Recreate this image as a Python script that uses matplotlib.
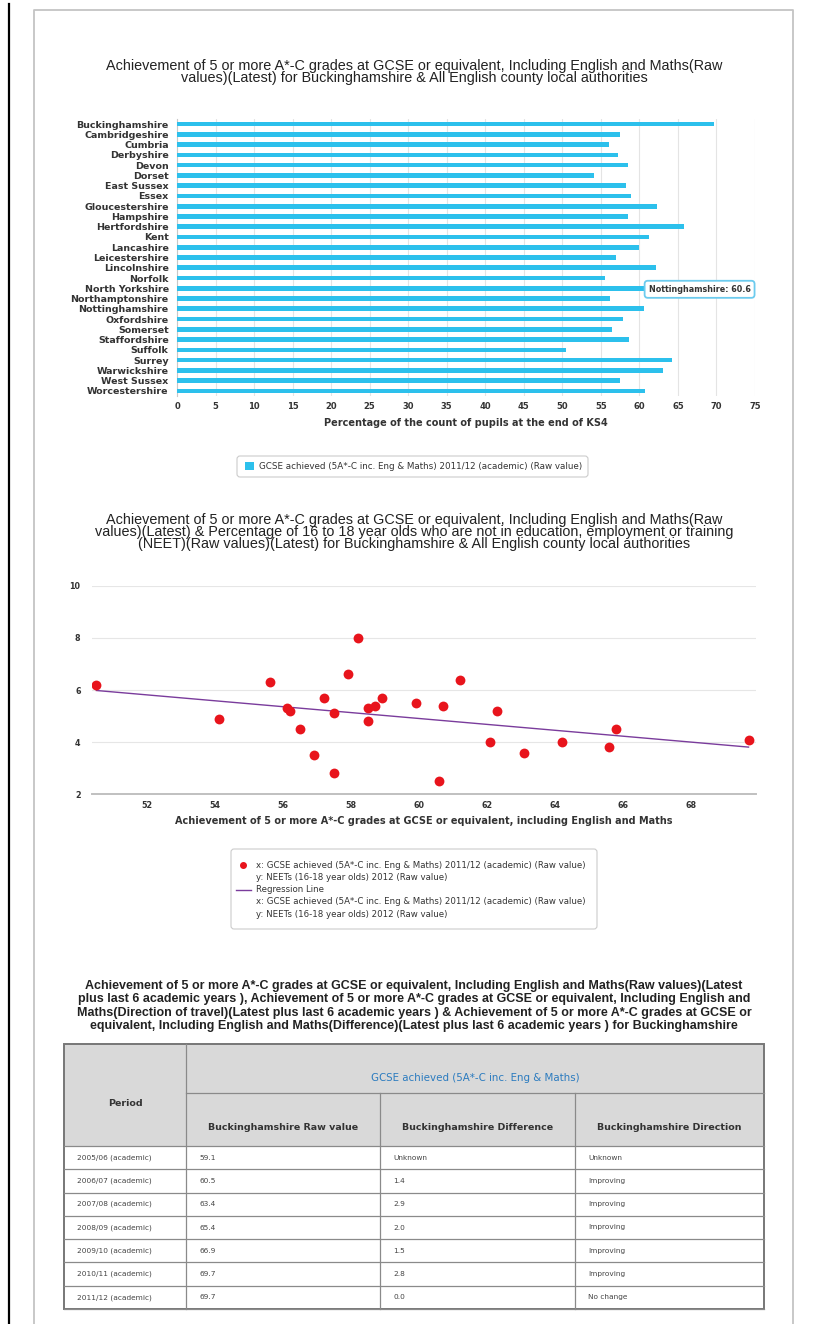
import matplotlib.pyplot as plt
import numpy as np
from matplotlib.patches import FancyBboxPatch, Rectangle
from matplotlib.lines import Line2D

counties = ["Buckinghamshire", "Cambridgeshire", "Cumbria", "Derbyshire", "Devon",
            "Dorset", "East Sussex", "Essex", "Gloucestershire", "Hampshire",
            "Hertfordshire", "Kent", "Lancashire", "Leicestershire", "Lincolnshire",
            "Norfolk", "North Yorkshire", "Northamptonshire", "Nottinghamshire",
            "Oxfordshire", "Somerset", "Staffordshire", "Suffolk", "Surrey",
            "Warwickshire", "West Sussex", "Worcestershire"]
gcse = [69.7, 57.5, 56.1, 57.2, 58.5, 54.1, 58.2, 58.9, 62.3, 58.5, 65.8, 61.2,
        59.9, 56.9, 62.1, 55.6, 65.6, 56.2, 60.6, 57.9, 56.5, 58.7, 50.5, 64.2,
        63.1, 57.5, 60.7]
neet = [4.1, 5.1, 5.3, 5.7, 5.3, 4.9, 8.0, 5.7, 5.2, 4.8, 4.5, 6.4, 5.5, 3.5, 4.0,
        6.3, 3.8, 5.2, 2.5, 6.6, 4.5, 5.4, 6.2, 4.0, 3.6, 2.8, 5.4]

bar_ticks = list(range(0, 80, 5))
sc_xticks = list(range(52, 70, 2))
sc_yticks = [2, 4, 6, 8, 10]

periods = ["2005/06 (academic)", "2006/07 (academic)", "2007/08 (academic)",
           "2008/09 (academic)", "2009/10 (academic)", "2010/11 (academic)",
           "2011/12 (academic)"]
raw_vals = ["59.1", "60.5", "63.4", "65.4", "66.9", "69.7", "69.7"]
diffs = ["Unknown", "1.4", "2.9", "2.0", "1.5", "2.8", "0.0"]
directions = ["Unknown", "Improving", "Improving", "Improving", "Improving",
              "Improving", "No change"]

series_name = "GCSE achieved (5A*-C inc. Eng & Maths) 2011/12 (academic) (Raw value)"
neet_name = "NEETs (16-18 year olds) 2012 (Raw value)"

W, H = 821, 1324
BLUE = "#2cc0ec"
RED = "#e8141c"
PURPLE = "#7a3c9c"
TXT = "#333333"


def rect(l, t, r, b):
    return [l / W, 1 - b / H, (r - l) / W, (b - t) / H]


fig = plt.figure(figsize=(W / 100, H / 100), dpi=100)
fig.patch.set_facecolor("white")

ov = fig.add_axes([0, 0, 1, 1])
ov.set_xlim(0, W)
ov.set_ylim(H, 0)
ov.axis("off")

# page frame
ov.plot([9, 9], [4, H], color="black", lw=1.6)
ov.plot([34, 34, 793, 793], [H, 10, 10, H], color="#c4c4c4", lw=1.3)

# ---- bar chart ----
ov.text(414, 72, "Achievement of 5 or more A*-C grades at GCSE or equivalent, Including English and Maths(Raw\n"
        "values)(Latest) for Buckinghamshire & All English county local authorities",
        ha="center", va="center", fontsize=10.4, family="Liberation Sans", color="#222",
        linespacing=0.82)

ax1 = fig.add_axes(rect(177, 119, 755, 396))
y = np.arange(len(counties))
ax1.barh(y, gcse, height=0.45, color=BLUE, zorder=3)
ax1.set_ylim(len(counties) - 0.5, -0.5)
ax1.set_xlim(0, 75)
ax1.set_xticks(bar_ticks)
ax1.set_yticks(y)
ax1.set_yticklabels(counties)
ax1.grid(axis="x", color="#e4e4e4", lw=0.8, zorder=0)
for s in ["top", "right", "bottom"]:
    ax1.spines[s].set_visible(False)
ax1.spines["left"].set_color("#c8c8c8")
ax1.tick_params(length=0, labelcolor=TXT)
ax1.tick_params(axis="y", pad=6, labelsize=6.8)
ax1.tick_params(axis="x", pad=4, labelsize=6)
for lab in ax1.get_xticklabels() + ax1.get_yticklabels():
    lab.set_fontweight("bold")
ax1.set_xlabel("Percentage of the count of pupils at the end of KS4", fontsize=7,
               fontweight="bold", color=TXT, labelpad=5)
ax1.text(61.2, 16.1, "Nottinghamshire: %.1f" % gcse[counties.index("Nottinghamshire")],
         fontsize=5.8, fontweight="bold", color=TXT, va="center", ha="left", zorder=5,
         bbox=dict(boxstyle="round,pad=0.5,rounding_size=0.4", fc="white",
                   ec="#6ccbee", lw=1.3))

# legend 1
ov.add_patch(FancyBboxPatch((237, 456), 351, 21, boxstyle="round,pad=0,rounding_size=3",
                            fc="white", ec="#cccccc", lw=0.8))
ov.add_patch(Rectangle((245, 462), 9, 8, fc=BLUE, ec="none"))
ov.text(259, 466.5, series_name, fontsize=6.3, color=TXT, va="center", ha="left")

# ---- scatter chart ----
ov.text(414, 532, "Achievement of 5 or more A*-C grades at GCSE or equivalent, Including English and Maths(Raw\n"
        "values)(Latest) & Percentage of 16 to 18 year olds who are not in education, employment or training\n"
        "(NEET)(Raw values)(Latest) for Buckinghamshire & All English county local authorities",
        ha="center", va="center", fontsize=10.4, family="Liberation Sans", color="#222",
        linespacing=0.82)

ax2 = fig.add_axes(rect(91.7, 585.7, 756, 794.3))
ax2.scatter(gcse, neet, s=50, color=RED, zorder=4, linewidths=0)
k, c0 = np.polyfit(gcse, neet, 1)
xl = np.array([min(gcse), max(gcse)])
ax2.plot(xl, k * xl + c0, color=PURPLE, lw=1, zorder=3)
ax2.set_xlim(50.36, 69.92)
ax2.set_ylim(2, 10)
ax2.set_xticks(sc_xticks)
ax2.set_yticks(sc_yticks)
ax2.grid(axis="y", color="#e6e6e6", lw=0.8, zorder=0)
for s in ["top", "right", "left"]:
    ax2.spines[s].set_visible(False)
ax2.spines["bottom"].set_color("#c0c0c0")
ax2.spines["bottom"].set_linewidth(1.4)
ax2.tick_params(length=0, labelsize=5.8, labelcolor=TXT)
ax2.tick_params(axis="y", pad=8)
ax2.tick_params(axis="x", pad=5)
for lab in ax2.get_xticklabels() + ax2.get_yticklabels():
    lab.set_fontweight("bold")
ax2.set_xlabel("Achievement of 5 or more A*-C grades at GCSE or equivalent, including English and Maths",
               fontsize=7, fontweight="bold", color=TXT, labelpad=4)

# legend 2
ov.add_patch(FancyBboxPatch((231, 849), 366, 80, boxstyle="round,pad=0,rounding_size=3",
                            fc="white", ec="#cccccc", lw=0.8))
ov.add_line(Line2D([243], [865], marker="o", ms=4, color=RED, ls="none"))
ov.add_line(Line2D([236, 251], [890, 890], color=PURPLE, lw=1))
leg_lines = ["x: " + series_name, "y: " + neet_name, "Regression Line",
             "x: " + series_name, "y: " + neet_name]
for i, t in enumerate(leg_lines):
    ov.text(256, 865 + i * 12.3, t, fontsize=6.2, color=TXT, va="center", ha="left")

# ---- table ----
ov.text(414, 1006, "Achievement of 5 or more A*-C grades at GCSE or equivalent, Including English and Maths(Raw values)(Latest\n"
        "plus last 6 academic years ), Achievement of 5 or more A*-C grades at GCSE or equivalent, Including English and\n"
        "Maths(Direction of travel)(Latest plus last 6 academic years ) & Achievement of 5 or more A*-C grades at GCSE or\n"
        "equivalent, Including English and Maths(Difference)(Latest plus last 6 academic years ) for Buckinghamshire",
        ha="center", va="center", fontsize=9.0, family="Liberation Sans", fontweight="bold",
        color="#222", linespacing=1.14)

cx = [64, 186, 380, 575, 764]
ty = [1044, 1093, 1146]
rh = (1309 - 1146) / len(periods)
ry = [1146 + i * rh for i in range(len(periods) + 1)]
lc = "#8a8a8a"
ov.add_patch(Rectangle((cx[0], ty[0]), cx[-1] - cx[0], ty[2] - ty[0], fc="#d9d9d9", ec="none"))
for yy in [ty[1]]:
    ov.plot([cx[1], cx[-1]], [yy, yy], color=lc, lw=0.9)
for yy in ry:
    ov.plot([cx[0], cx[-1]], [yy, yy], color=lc, lw=0.9)
ov.plot([cx[1], cx[1]], [ty[0], ry[-1]], color=lc, lw=0.9)
for xx in cx[2:4]:
    ov.plot([xx, xx], [ty[1], ry[-1]], color=lc, lw=0.9)
ov.add_patch(Rectangle((cx[0], ty[0]), cx[-1] - cx[0], ry[-1] - ty[0], fc="none", ec="#777777", lw=1.4))

ov.text((cx[0] + cx[1]) / 2, 1103, "Period", fontsize=6.8, fontweight="bold", color=TXT,
        ha="center", va="center")
ov.text((cx[1] + cx[-1]) / 2, 1078, "GCSE achieved (5A*-C inc. Eng & Maths)", fontsize=7.4,
        color="#2b7bbf", ha="center", va="center")
heads = ["Buckinghamshire Raw value", "Buckinghamshire Difference", "Buckinghamshire Direction"]
for j, h in enumerate(heads):
    ov.text((cx[j + 1] + cx[j + 2]) / 2, 1127, h, fontsize=6.8, fontweight="bold", color=TXT,
            ha="center", va="center")
for i in range(len(periods)):
    yc = (ry[i] + ry[i + 1]) / 2
    for j, v in enumerate([periods[i], raw_vals[i], diffs[i], directions[i]]):
        ov.text(cx[j] + 13, yc, v, fontsize=5.3, color="#444", ha="left", va="center")

fig.savefig("out.png", dpi=100)
